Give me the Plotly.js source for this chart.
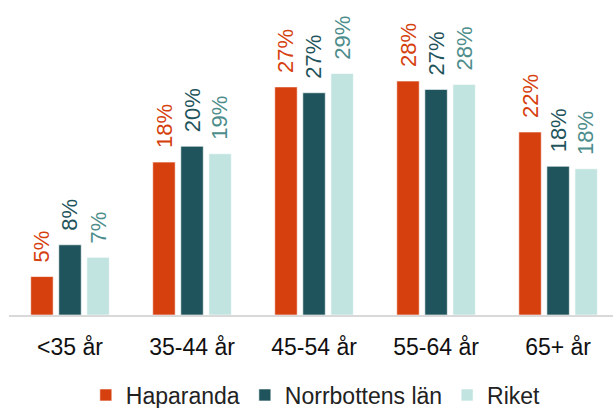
<!DOCTYPE html>
<html>
<head>
<meta charset="utf-8">
<script src="https://cdn.plot.ly/plotly-3.0.1.min.js"></script>
<style>
  html, body { margin: 0; padding: 0; background: #fff; }
  #chart { width: 613px; height: 408px; }
</style>
</head>
<body>
<div id="chart"></div>
<script>
const categories = ['<35 år', '35-44 år', '45-54 år', '55-64 år', '65+ år'];
const haparanda = [4.6, 18.3, 27.3, 28.0, 21.9];
const norrbotten = [8.4, 20.2, 26.6, 27.0, 17.8];
const riket = [6.9, 19.3, 28.9, 27.6, 17.5];
const seriesNames = ['Haparanda', 'Norrbottens län', 'Riket'];
const barColors = ['#d63f0e', '#1f545c', '#c1e4e0'];
const labelColors = ['#d63f0e', '#1f545c', '#4d8d8b'];

const allSeries = [haparanda, norrbotten, riket];
const bargap = 0.31;
const slot = (1 - bargap) / 3;

const traces = allSeries.map((vals, j) => ({
    x: categories,
    y: vals,
    type: 'bar',
    name: seriesNames[j],
    marker: { color: barColors[j], line: { color: 'rgba(255,255,255,0.6)', width: 1 } },
    hoverinfo: 'skip'
}));

// value labels, rotated above each bar
const annotations = [];
allSeries.forEach((vals, j) => {
    vals.forEach((v, i) => {
        annotations.push({
            x: i + (j - 1) * slot,
            y: v,
            xref: 'x',
            yref: 'y',
            text: Math.round(v) + '%',
            textangle: -90,
            showarrow: false,
            xanchor: 'center',
            yanchor: 'bottom',
            yshift: 12,
            font: { family: 'Liberation Sans', size: 22, color: labelColors[j] }
        });
    });
});

const layout = {
    width: 613,
    height: 408,
    margin: { l: 9, r: 0, t: 0, b: 93, autoexpand: false },
    paper_bgcolor: '#fff',
    plot_bgcolor: '#fff',
    barmode: 'group',
    bargap: bargap,
    bargroupgap: 0.2,
    xaxis: {
        type: 'category',
        range: [-0.5, 4.45],
        showline: true,
        linecolor: '#d9d9d9',
        linewidth: 2,
        ticks: '',
        ticklabelstandoff: 10,
        tickfont: { family: 'Liberation Sans', size: 23, color: '#111' },
        fixedrange: true
    },
    yaxis: {
        range: [0, 37.7],
        visible: false,
        showgrid: false,
        zeroline: false,
        fixedrange: true
    },
    showlegend: true,
    legend: {
        orientation: 'h',
        x: 0.508,
        xanchor: 'center',
        y: -0.254,
        yanchor: 'middle',
        font: { family: 'Liberation Sans', size: 23, color: '#222' },
        itemwidth: 30,
        traceorder: 'normal'
    },
    annotations: annotations
};

Plotly.newPlot('chart', traces, layout, { displayModeBar: false, staticPlot: true });
</script>
</body>
</html>
